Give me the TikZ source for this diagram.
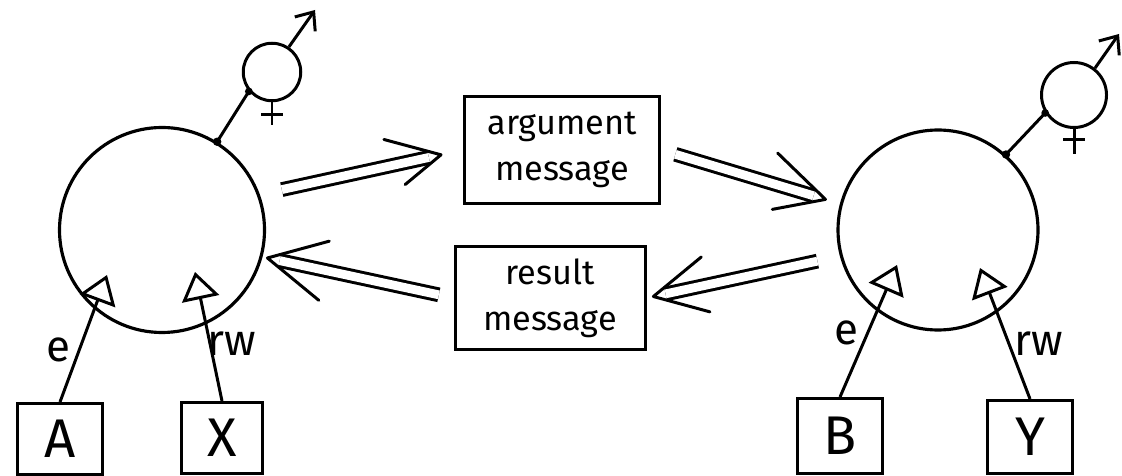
\documentclass[tikz,border=0pt]{standalone}
\usepackage{fontspec}
\setmainfont{Fira Sans}
\usetikzlibrary{positioning,arrows.meta,calc,decorations.markings}
\tikzset{
  agt/.style={draw,circle,line width=1.8pt,minimum size=4.1cm,inner sep=0pt},
  prt/.style={draw,circle,line width=1.7pt,inner sep=0pt},
  box/.style={draw,line width=1.7pt,minimum width=1.7cm,minimum height=1.42cm,inner sep=0pt,font=\fontsize{31}{33}\selectfont},
  msg/.style={draw,line width=1.7pt,align=center,minimum width=3.9cm,minimum height=2.15cm,font=\fontsize{19.5}{26}\selectfont},
  dbl/.style 2 args={double,double distance=5pt,line width=1.7pt,shorten <=#1,shorten >=#2+0.25cm,
    decoration={markings,mark=at position -#2 with {\draw[line width=1.7pt,line join=round,line cap=round] (-1.45cm,0.75cm) -- (0,0) -- (-1.45cm,-0.75cm);}},
    postaction={decorate}},
  inp/.style={line width=1.7pt,-{Triangle[open,length=5.5mm,width=7.5mm]}},
  outarr/.style={line width=1.7pt,-{Straight Barb[length=3mm,width=5mm]}},
  lbl/.style={font=\fontsize{25}{27}\selectfont,inner sep=0pt},
  pin/.style={line width=1.7pt},
}
\begin{document}
\begin{tikzpicture}[x=0.2mm,y=-0.2mm]
  \useasboundingbox (0,0) rectangle (1122,476);
  % caller side
  \node[agt] (la) at (162,230) {};
  \node[prt,minimum size=1.15cm] (ls) at (272,72) {};
  \node[box] (a) at (60,439) {A};
  \node[box,minimum width=1.62cm] (x) at (222,438) {X};
  % callee side
  \node[agt,minimum size=4cm] (rb) at (938,230) {};
  \node[prt,minimum size=1.3cm] (rs) at (1074,95) {};
  \node[box,minimum height=1.5cm] (b) at (840,436) {B};
  \node[box,minimum height=1.46cm] (y) at (1030,437) {Y};
  % messages
  \node[msg] (arg) at (562,150) {argument\\message};
  \node[msg,minimum width=3.8cm,minimum height=2.05cm] (res) at (550,298) {result\\message};

  \coordinate (lae) at ($(la)+(-55,45)$);
  \coordinate (lar) at ($(la)+(33,42)$);
  \coordinate (rbe) at ($(rb)+(-41,35)$);
  \coordinate (rbr) at ($(rb)+(42,38)$);
  \coordinate (lo) at (315,10);
  \coordinate (ro) at (1119,34);

  \draw[inp] (a.north) -- (lae);
  \draw[inp] (x.north) -- (lar);
  \draw[inp] (b.north) -- (rbe);
  \draw[inp] (y.north) -- (rbr);
  \node[lbl] (le) at (58,350) {e};
  \node[lbl] (lr) at (232,344) {rw};
  \node[lbl] (re) at (846,333) {e};
  \node[lbl] (rr) at (1039,344) {rw};

  % links to the small circles
  \draw[pin] (la.58) -- (ls.220);
  \fill (la.58) circle (2.4pt) (ls.220) circle (2.2pt);
  \draw[outarr] (ls.56) -- (lo);
  \draw[pin] (ls.south) -- ++(0,23) ($(ls.south)+(-11,12)$) -- ++(22,0);
  \draw[pin] (rb.48) -- (rs.212);
  \fill (rb.48) circle (2.4pt) (rs.212) circle (2.2pt);
  \draw[outarr] (rs.52) -- (ro);
  \draw[pin] (rs.south) -- ++(0,25) ($(rs.south)+(-11,11)$) -- ++(22,0);

  % message flow
  \draw[dbl={0.45cm}{0.45cm}] (la.20) -- (arg.west);
  \draw[dbl={0.3cm}{0.3cm}] (arg.east) -- (rb.165);
  \draw[dbl={0.46cm}{0.14cm}] (rb.195) -- (res.east);
  \draw[dbl={0.3cm}{0.1cm}] (res.west) -- (la.345);
\end{tikzpicture}
\end{document}
